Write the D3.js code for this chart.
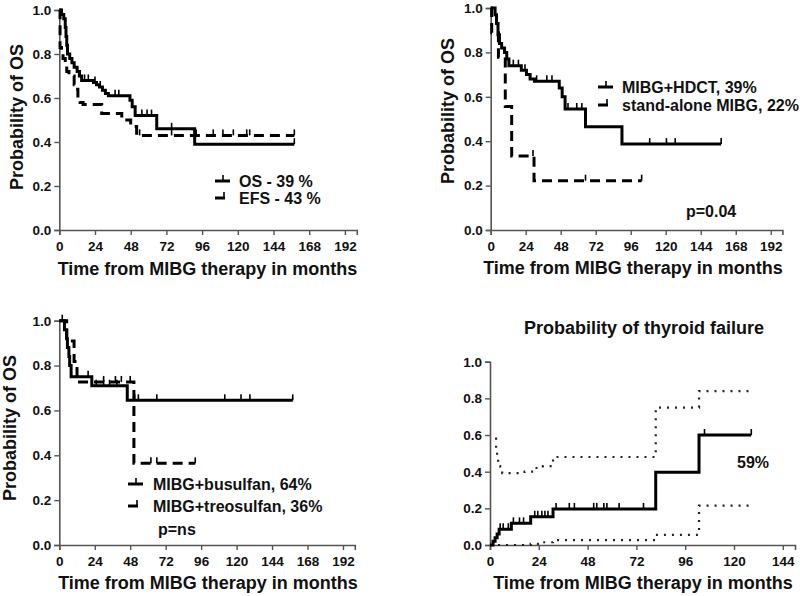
<!DOCTYPE html>
<html>
<head>
<meta charset="utf-8">
<script src="https://cdn.jsdelivr.net/npm/d3@7/dist/d3.min.js"></script>
<style>
  html, body { margin: 0; padding: 0; background: #fff; }
  svg { display: block; font-family: "Liberation Sans", Arial, sans-serif; }
  .tick text { font-size: 13.5px; font-weight: bold; fill: #111; }
</style>
</head>
<body>
<svg id="chart" width="800" height="596"></svg>
<script>
// ---------------- DATA ----------------
const xTicksOS = [0, 24, 48, 72, 96, 120, 144, 168, 192];
const xTicksThy = [0, 24, 48, 72, 96, 120, 144];
const yTicks = [0, 0.2, 0.4, 0.6, 0.8, 1.0];

// Panel A: OS vs EFS
const osTimes = [0, 1.5, 3, 4, 4.5, 5, 5.5, 7, 8.5, 10, 12, 13.5, 15, 23, 25, 27, 29, 31, 33, 47.5, 49, 51, 65.5, 91];
const osSurv  = [1.0, 0.98, 0.96, 0.92, 0.88, 0.84, 0.80, 0.78, 0.76, 0.74, 0.72, 0.70, 0.68, 0.67, 0.66, 0.65, 0.635, 0.62, 0.61, 0.59, 0.56, 0.52, 0.46, 0.39];
const osEnd = 158;
const osCensor = [14, 17, 19.5, 24, 27.5, 37.5, 40, 55.5, 59, 62, 75.5, 158];

const efsTimes = [0, 0.5, 1.5, 2.5, 4, 5, 6.5, 10, 11, 12.5, 14, 16, 28.5, 42, 48, 52];
const efsSurv  = [1.0, 0.83, 0.80, 0.78, 0.76, 0.72, 0.70, 0.66, 0.64, 0.60, 0.58, 0.57, 0.53, 0.50, 0.47, 0.43];
const efsEnd = 158;
const efsCensor = [54, 75.5, 92, 103.5, 110, 117, 126, 128, 158];

// Panel B: MIBG+HDCT vs stand-alone MIBG
const hdctTimes = [0, 3, 4, 5, 6, 7.5, 9.5, 11, 12.5, 21, 24.5, 27, 30, 47, 49, 51, 65, 90];
const hdctSurv  = [1.0, 0.97, 0.93, 0.88, 0.84, 0.82, 0.80, 0.77, 0.74, 0.72, 0.70, 0.68, 0.67, 0.64, 0.60, 0.545, 0.465, 0.387];
const hdctEnd = 158;
const hdctCensor = [15.5, 19, 23.5, 31.5, 38.5, 42, 53, 59, 62.5, 109, 120.5, 126.5, 158];

const aloneTimes = [0, 0.7, 5.3, 10, 14.4, 29.7];
const aloneSurv  = [1.0, 0.889, 0.778, 0.556, 0.333, 0.222];
const aloneEnd = 103.5;
const aloneCensor = [29, 65, 103.5];

// Panel C: busulfan vs treosulfan
const busTimes = [0, 3.5, 5, 5.5, 6.5, 7, 8, 22, 46];
const busSurv  = [1.0, 0.96, 0.92, 0.88, 0.84, 0.80, 0.75, 0.71, 0.645];
const busEnd = 158;
const busCensor = [19.5, 25, 30, 34, 39, 51, 53.5, 66, 112, 123, 129, 158];

const treoTimes = [0, 5, 10, 12, 50.5];
const treoSurv  = [1.0, 0.909, 0.818, 0.727, 0.364];
const treoEnd = 92;
const treoCensor = [2, 30, 38, 42, 48, 62, 66, 92];

// Panel D: probability of thyroid failure (with 95% CI)
const thyTimes = [0, 1.5, 2.5, 3.5, 4.5, 10.5, 20, 31, 81.5, 102.8];
const thyProb  = [0, 0.02, 0.04, 0.06, 0.086, 0.118, 0.154, 0.197, 0.397, 0.60];
const thyEnd = 128.5;
const thyCensor = [5, 6.5, 9, 11.5, 14.5, 16.5, 22, 23.5, 25.5, 27, 28.5, 32.5, 39, 41.5, 51, 52.5, 56, 57.5, 63.5, 75.5, 105.5, 128.5];

const ciUpTimes = [2.5, 3, 3.5, 4, 5, 6, 17, 22, 26, 31, 81.5, 102.8];
const ciUpVals  = [0.58, 0.52, 0.47, 0.43, 0.41, 0.392, 0.40, 0.42, 0.43, 0.48, 0.75, 0.84];
const ciUpEnd = 128;
const ciLoTimes = [0, 20, 25, 31, 81.5, 102.8];
const ciLoVals  = [0, 0.006, 0.015, 0.027, 0.055, 0.215];
const ciLoEnd = 128;

// ---------------- DRAWING ----------------
const svg = d3.select("#chart");
const AXIS = "#555";

function stepPoints(times, vals, end) {
  const pts = times.map((t, i) => [t, vals[i]]);
  pts.push([end, vals[vals.length - 1]]);
  return pts;
}
function valueAt(times, vals, t) {
  let v = vals[0];
  for (let i = 0; i < times.length; i++) if (times[i] <= t) v = vals[i];
  return v;
}

function makePanel(cfg) {
  const x = d3.scaleLinear().domain(cfg.xDomain).range(cfg.xRange);
  const y = d3.scaleLinear().domain([0, 1]).range(cfg.yRange);
  const g = svg.append("g");

  const xa = g.append("g")
    .attr("transform", `translate(0,${cfg.yRange[0]})`)
    .call(d3.axisBottom(x).tickValues(cfg.xTicks).tickFormat(d3.format("d"))
      .tickSizeOuter(0).tickSize(5).tickPadding(6));
  const ya = g.append("g")
    .attr("transform", `translate(${cfg.xRange[0]},0)`)
    .call(d3.axisLeft(y).tickValues(yTicks).tickFormat(d3.format(".1f"))
      .tickSizeOuter(0).tickSize(5).tickPadding(3));
  [xa, ya].forEach(a => {
    a.select(".domain").attr("stroke", AXIS).attr("stroke-width", 1.6);
    a.selectAll(".tick line").attr("stroke", AXIS).attr("stroke-width", 1.4);
    a.selectAll(".tick text").attr("fill", "#111");
  });

  return { g, x, y };
}

function drawSeries(p, times, vals, end, censor, opts) {
  const line = d3.line().curve(d3.curveStepAfter)
    .x(d => p.x(d[0])).y(d => p.y(d[1]));
  p.g.append("path")
    .datum(stepPoints(times, vals, end))
    .attr("d", line)
    .attr("fill", "none")
    .attr("stroke", opts.color || "#000")
    .attr("stroke-width", opts.width || 3)
    .attr("stroke-dasharray", opts.dash || null)
    .attr("stroke-linejoin", "miter");
  if (censor) {
    p.g.selectAll(null).data(censor).enter().append("line")
      .attr("x1", d => p.x(d)).attr("x2", d => p.x(d))
      .attr("y1", d => p.y(valueAt(times, vals, d)))
      .attr("y2", d => p.y(valueAt(times, vals, d)) - 6)
      .attr("stroke", "#000").attr("stroke-width", 1.6);
  }
}

function text(x, y, s, opts = {}) {
  const t = svg.append("text")
    .attr("x", x).attr("y", y)
    .attr("font-size", opts.size || 16)
    .attr("font-weight", "bold")
    .attr("fill", "#111")
    .attr("text-anchor", opts.anchor || "start")
    .text(s);
  if (opts.rotate) t.attr("transform", `rotate(-90,${x},${y})`);
  return t;
}

function legendSolid(x, y) {
  svg.append("line").attr("x1", x).attr("x2", x + 15).attr("y1", y).attr("y2", y)
    .attr("stroke", "#000").attr("stroke-width", 3);
  svg.append("line").attr("x1", x + 8).attr("x2", x + 8).attr("y1", y).attr("y2", y - 6)
    .attr("stroke", "#000").attr("stroke-width", 1.6);
}
function legendDashed(x, y) {
  svg.append("line").attr("x1", x).attr("x2", x + 10).attr("y1", y).attr("y2", y)
    .attr("stroke", "#000").attr("stroke-width", 3);
  svg.append("line").attr("x1", x + 9).attr("x2", x + 9).attr("y1", y).attr("y2", y - 6)
    .attr("stroke", "#000").attr("stroke-width", 1.6);
}

const DASH = "10,6";

// Panel A
const pA = makePanel({ xDomain: [0, 200], xRange: [59.3, 356.8], yRange: [230, 10], xTicks: xTicksOS });
drawSeries(pA, efsTimes, efsSurv, efsEnd, efsCensor, { dash: DASH });
drawSeries(pA, osTimes, osSurv, osEnd, osCensor, {});
text(23, 117, "Probability of OS", { size: 18, anchor: "middle", rotate: true });
text(207.5, 275, "Time from MIBG therapy in months", { size: 18, anchor: "middle" });
legendSolid(215, 181);
text(239, 187, "OS - 39 %");
legendDashed(215, 198);
text(239, 204, "EFS - 43 %");

// Panel B
const pB = makePanel({ xDomain: [0, 200], xRange: [490.7, 782.4], yRange: [230, 8], xTicks: xTicksOS });
drawSeries(pB, aloneTimes, aloneSurv, aloneEnd, aloneCensor, { dash: DASH });
drawSeries(pB, hdctTimes, hdctSurv, hdctEnd, hdctCensor, {});
text(454, 111, "Probability of OS", { size: 18, anchor: "middle", rotate: true });
text(633, 274, "Time from MIBG therapy in months", { size: 18, anchor: "middle" });
legendSolid(598, 87);
text(622, 93, "MIBG+HDCT, 39%");
legendDashed(598, 105);
text(622, 111, "stand-alone MIBG, 22%");
text(686, 217, "p=0.04");

// Panel C
const pC = makePanel({ xDomain: [0, 200], xRange: [59.3, 354.8], yRange: [545, 320.7], xTicks: xTicksOS });
drawSeries(pC, treoTimes, treoSurv, treoEnd, treoCensor, { dash: DASH });
drawSeries(pC, busTimes, busSurv, busEnd, busCensor, {});
text(16, 428, "Probability of OS", { size: 18, anchor: "middle", rotate: true });
text(208, 589, "Time from MIBG therapy in months", { size: 18, anchor: "middle" });
legendSolid(128, 484);
text(153, 490, "MIBG+busulfan, 64%");
legendDashed(128, 506);
text(153, 512, "MIBG+treosulfan, 36%");
text(158, 535, "p=ns");

// Panel D
const pD = makePanel({ xDomain: [0, 150], xRange: [490, 795], yRange: [545, 361.7], xTicks: xTicksThy });
drawSeries(pD, ciUpTimes, ciUpVals, ciUpEnd, null, { dash: "2,6", width: 2.2, color: "#222" });
drawSeries(pD, ciLoTimes, ciLoVals, ciLoEnd, null, { dash: "2,6", width: 2.2, color: "#222" });
drawSeries(pD, thyTimes, thyProb, thyEnd, thyCensor, {});
text(644, 334, "Probability of thyroid failure", { size: 18, anchor: "middle" });
text(643, 589, "Time from MIBG therapy in months", { size: 18, anchor: "middle" });
text(737, 468, "59%");
</script>
</body>
</html>
